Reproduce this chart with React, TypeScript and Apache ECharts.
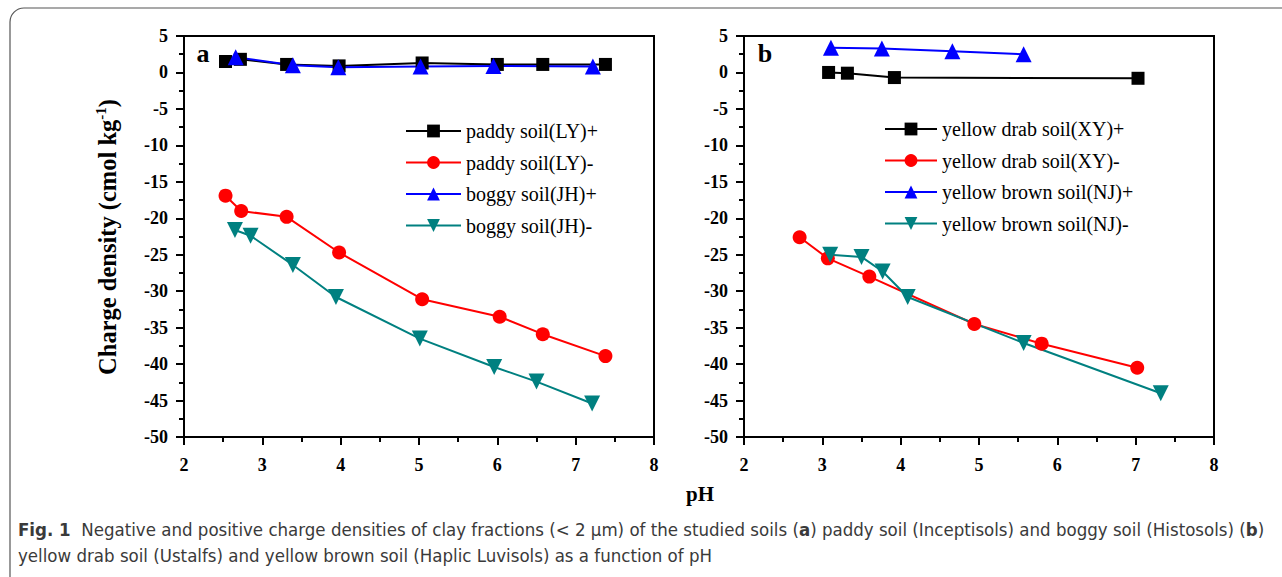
import React, { useEffect, useRef } from "react";
import * as echarts from "echarts";

// Panel a
const aLYposX = [2.53, 2.72, 3.31, 3.98, 5.04, 6.0, 6.58, 7.38];
const aLYposY = [1.5, 1.8, 1.1, 0.9, 1.3, 1.1, 1.1, 1.1];
const aLYnegX = [2.53, 2.73, 3.31, 3.98, 5.04, 6.03, 6.58, 7.38];
const aLYnegY = [-16.9, -19.0, -19.8, -24.7, -31.1, -33.5, -35.9, -38.9];
const aJHposX = [2.66, 3.39, 3.97, 5.02, 5.95, 7.22];
const aJHposY = [2.1, 1.0, 0.7, 0.8, 0.9, 0.8];
const aJHnegX = [2.65, 2.85, 3.39, 3.94, 5.01, 5.96, 6.5, 7.21];
const aJHnegY = [-21.6, -22.4, -26.4, -30.8, -36.5, -40.4, -42.4, -45.4];
// Panel b
const bXYposX = [3.08, 3.32, 3.92, 7.03];
const bXYposY = [0.0, -0.1, -0.7, -0.8];
const bXYnegX = [2.71, 3.07, 3.6, 4.94, 5.8, 7.02];
const bXYnegY = [-22.6, -25.5, -28.0, -34.5, -37.2, -40.5];
const bNJposX = [3.11, 3.76, 4.66, 5.57];
const bNJposY = [3.4, 3.3, 2.9, 2.5];
const bNJnegX = [3.1, 3.5, 3.77, 4.09, 5.57, 7.32];
const bNJnegY = [-25.0, -25.3, -27.3, -30.8, -37.1, -44.0];

const namesA = ["paddy soil(LY)+", "paddy soil(LY)-", "boggy soil(JH)+", "boggy soil(JH)-"];
const namesB = ["yellow drab soil(XY)+", "yellow drab soil(XY)-", "yellow brown soil(NJ)+", "yellow brown soil(NJ)-"];

const xTicks = [2, 3, 4, 5, 6, 7, 8];
const yTicks = [5, 0, -5, -10, -15, -20, -25, -30, -35, -40, -45, -50];

const SERIF = "Liberation Serif";

const zip = (xs: number[], ys: number[]) => xs.map((x, i) => [x, ys[i]]);

export default function App() {
  const ref = useRef<HTMLDivElement>(null);
  useEffect(() => {
    document.body.style.margin = "0";
    const chart = echarts.init(ref.current!, null, { renderer: "svg" });

    const styles = [
      { color: "#000000", symbol: "rect", size: 13, rot: 0 },
      { color: "#ff0000", symbol: "circle", size: 14, rot: 0 },
      { color: "#0000ff", symbol: "triangle", size: 16, rot: 0 },
      { color: "#008080", symbol: "triangle", size: 16, rot: 180 },
    ];

    const mkSeries = (name: string, data: number[][], st: any, axis: number) => ({
      type: "line",
      name,
      data,
      xAxisIndex: axis,
      yAxisIndex: axis,
      symbol: st.symbol,
      symbolSize: st.size,
      symbolRotate: st.rot,
      showSymbol: true,
      lineStyle: { color: st.color, width: 2 },
      itemStyle: { color: st.color },
      z: 3,
    });

    const gridStyle = { show: true, borderColor: "#000", borderWidth: 2, backgroundColor: "transparent" };
    const grids = [
      { ...gridStyle, left: 184, right: 628, top: 36, bottom: 140 },
      { ...gridStyle, left: 744, right: 68, top: 36, bottom: 140 },
    ];

    const xAxes = [0, 1].map((g) => ({
      type: "value",
      gridIndex: g,
      min: xTicks[0],
      max: xTicks[xTicks.length - 1],
      interval: 1,
      axisLine: { show: true, onZero: false, lineStyle: { color: "#000", width: 2 } },
      axisTick: { show: true, length: 8, lineStyle: { color: "#000", width: 2 } },
      minorTick: { show: true, splitNumber: 2, length: 5, lineStyle: { color: "#000", width: 2 } },
      splitLine: { show: false },
      axisLabel: { show: false },
    }));
    const yAxes = [0, 1].map((g) => ({
      type: "value",
      gridIndex: g,
      min: yTicks[yTicks.length - 1],
      max: yTicks[0],
      interval: 5,
      axisLine: { show: true, onZero: false, lineStyle: { color: "#000", width: 2 } },
      axisTick: { show: true, length: 8, lineStyle: { color: "#000", width: 2 } },
      minorTick: { show: true, splitNumber: 2, length: 5, lineStyle: { color: "#000", width: 2 } },
      splitLine: { show: false },
      axisLabel: { show: false },
    }));

    const series = [
      mkSeries(namesA[0], zip(aLYposX, aLYposY), styles[0], 0),
      mkSeries(namesA[1], zip(aLYnegX, aLYnegY), styles[1], 0),
      mkSeries(namesA[2], zip(aJHposX, aJHposY), styles[2], 0),
      mkSeries(namesA[3], zip(aJHnegX, aJHnegY), styles[3], 0),
      mkSeries(namesB[0], zip(bXYposX, bXYposY), styles[0], 1),
      mkSeries(namesB[1], zip(bXYnegX, bXYnegY), styles[1], 1),
      mkSeries(namesB[2], zip(bNJposX, bNJposY), styles[2], 1),
      mkSeries(namesB[3], zip(bNJnegX, bNJnegY), styles[3], 1),
    ];

    const legendBase = {
      orient: "vertical",
      itemWidth: 55,
      itemHeight: 16,
      itemGap: 11.5,
      padding: 0,
      selectedMode: false,
      textStyle: { color: "#000", fontFamily: SERIF, fontSize: 20 },
    };

    chart.setOption({
      animation: false,
      backgroundColor: "#ffffff",
      grid: grids,
      xAxis: xAxes,
      yAxis: yAxes,
      legend: [
        { ...legendBase, data: namesA, left: 405, top: 121 },
        { ...legendBase, data: namesB, left: 884, top: 119, itemWidth: 52 },
      ],
      series,
    });

    // tick labels placed through the library's own scales
    const tickLabels: any[] = [];
    [0, 1].forEach((g) => {
      const yBottom = chart.convertToPixel({ yAxisIndex: g }, yTicks[yTicks.length - 1]) as number;
      const xLeft = chart.convertToPixel({ xAxisIndex: g }, xTicks[0]) as number;
      xTicks.forEach((v) => {
        const px = chart.convertToPixel({ xAxisIndex: g }, v) as number;
        tickLabels.push({
          type: "text",
          x: px,
          y: yBottom + 28,
          style: { text: String(v), fontFamily: SERIF, fontWeight: "bold", fontSize: 18, fill: "#000", align: "center", verticalAlign: "middle" },
        });
      });
      yTicks.forEach((v) => {
        const py = chart.convertToPixel({ yAxisIndex: g }, v) as number;
        tickLabels.push({
          type: "text",
          x: xLeft - 16,
          y: py,
          style: { text: String(v), fontFamily: SERIF, fontWeight: "bold", fontSize: 18, fill: "#000", align: "right", verticalAlign: "middle" },
        });
      });
    });

    const caption1 =
      "{b|Fig. 1}  Negative and positive charge densities of clay fractions (< 2 μm) of the studied soils ({b|a}) paddy soil (Inceptisols) and boggy soil (Histosols) ({b|b})";
    const caption2 = "yellow drab soil (Ustalfs) and yellow brown soil (Haplic Luvisols) as a function of pH";
    const CAP = "DejaVu Sans Condensed";
    const CAPSIZE = 18.5;

    chart.setOption({
      graphic: [
        {
          type: "rect",
          shape: { x: 10, y: 8, width: 1320, height: 620, r: 14 },
          style: { fill: "none", stroke: "#555", lineWidth: 1.2 },
          silent: true,
        },
        ...tickLabels,
        {
          type: "text",
          x: 203,
          y: 53,
          style: { text: "a", fontFamily: SERIF, fontWeight: "bold", fontSize: 26, fill: "#000", align: "center", verticalAlign: "middle" },
        },
        {
          type: "text",
          x: 765,
          y: 53,
          style: { text: "b", fontFamily: SERIF, fontWeight: "bold", fontSize: 26, fill: "#000", align: "center", verticalAlign: "middle" },
        },
        {
          type: "text",
          x: 700,
          y: 494,
          style: { text: "pH", fontFamily: SERIF, fontWeight: "bold", fontSize: 21, fill: "#000", align: "center", verticalAlign: "middle" },
        },
        {
          type: "text",
          x: 107,
          y: 237,
          rotation: Math.PI / 2,
          style: {
            text: "{a|Charge density (cmol kg}{s|-1}{a|)}",
            align: "center",
            verticalAlign: "middle",
            rich: {
              a: { fontFamily: SERIF, fontWeight: "bold", fontSize: 24.5, fill: "#000", lineHeight: 28 },
              s: { fontFamily: SERIF, fontWeight: "bold", fontSize: 15, fill: "#000", verticalAlign: "top", lineHeight: 28, padding: [0, 0, 12, 0] },
            },
          },
        },
        {
          type: "text",
          x: 18,
          y: 529,
          style: {
            text: caption1,
            verticalAlign: "middle",
            rich: {
              b: { fontFamily: CAP, fontWeight: "bold", fontSize: CAPSIZE, fill: "#3a3a3a" },
            },
            fontFamily: CAP,
            fontSize: CAPSIZE,
            fill: "#3a3a3a",
          },
        },
        {
          type: "text",
          x: 18,
          y: 555,
          style: { text: caption2, fontFamily: CAP, fontSize: CAPSIZE, fill: "#3a3a3a", verticalAlign: "middle" },
        },
      ],
    });
    return () => chart.dispose();
  }, []);
  return <div ref={ref} style={{ width: 1282, height: 577 }} />;
}
